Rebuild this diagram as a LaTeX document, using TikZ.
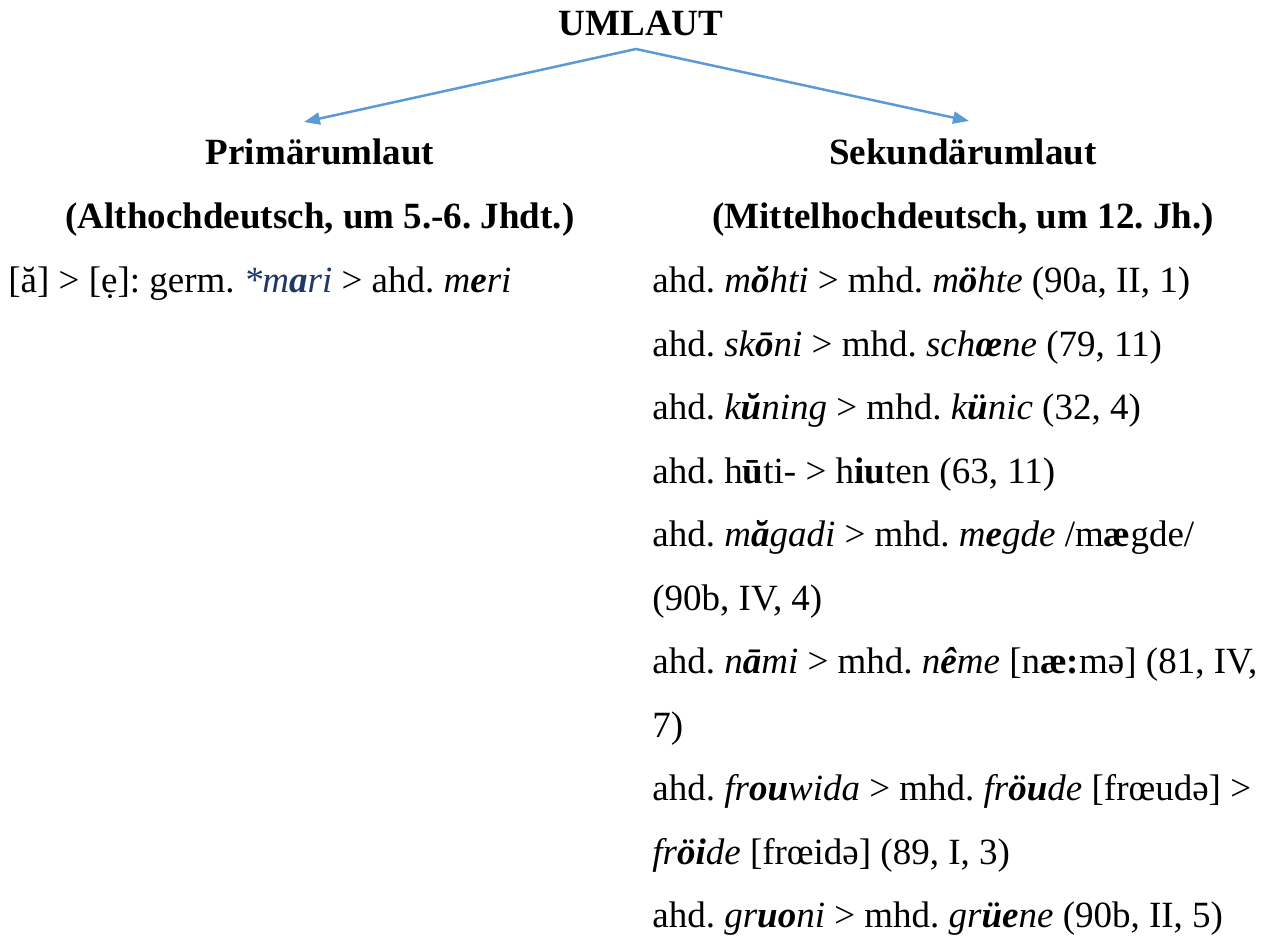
\documentclass[tikz,border=0pt]{standalone}
\usepackage{fontspec}
\setmainfont{Liberation Serif}
\usepackage{xcolor}
\usepackage{tikz}
\usetikzlibrary{arrows.meta,positioning}

\definecolor{arrowblue}{RGB}{91,155,213}
\definecolor{starblue}{RGB}{31,56,100}
\newcommand{\emv}[1]{\textbf{#1}}
\frenchspacing

\begin{document}
\begin{tikzpicture}[x=0.5pt,y=-0.5pt,>={Triangle[length=8pt,width=6pt]}]
  \tikzstyle{head}=[inner sep=0pt,anchor=base,font=\fontsize{18.5}{22}\selectfont\bfseries]
  \tikzstyle{line}=[inner sep=0pt,anchor=base west,font=\fontsize{18.5}{22}\selectfont]
  \tikzstyle{branch}=[->,arrowblue,line width=1.25pt]
  \useasboundingbox (0,0) rectangle (1287,946);
  % title and the two branches
  \node[head] (uml) at (641,36) {UMLAUT};
  \coordinate (apex) at (636,49);
  \node[head] (prim) at (320,165) {Primärumlaut};
  \node[head,below=31.75pt of prim.base,anchor=base] (primtime) {(Althochdeutsch, um 5.-6. Jhdt.)};
  \node[head] (sek) at (963,165) {Sekundärumlaut};
  \node[head,below=31.75pt of sek.base,anchor=base] (sektime) {(Mittelhochdeutsch, um 12. Jh.)};
  \coordinate (toprim) at (304,122);
  \coordinate (tosek) at (969,121);
  \draw[branch] (apex) -- (toprim);
  \draw[branch] (apex) -- (tosek);
  % left column
  \node[line] (l1) at (8,293) {[ă] > [ẹ]: germ. \textcolor{starblue}{\textit{*m\emv{a}ri}} > ahd. \textit{m\emv{e}ri}};
  % right column
  \node[line] (r1) at (652,293) {ahd. \textit{m\emv{ŏ}hti} > mhd. \textit{m\emv{ö}hte} (90a, II, 1)};
  \node[line,below=31.75pt of r1.base west,anchor=base west] (r2) {ahd. \textit{sk\emv{ō}ni} > mhd. \textit{sch\emv{œ}ne} (79, 11)};
  \node[line,below=31.75pt of r2.base west,anchor=base west] (r3) {ahd. \textit{k\emv{ŭ}ning} > mhd. \textit{k\emv{ü}nic} (32, 4)};
  \node[line,below=31.75pt of r3.base west,anchor=base west] (r4) {ahd. h\textbf{ū}ti- > h\textbf{iu}ten (63, 11)};
  \node[line,below=31.75pt of r4.base west,anchor=base west] (r5) {ahd. \textit{m\emv{ă}gadi} > mhd. \textit{m\emv{e}gde} /m\textbf{æ}gde/};
  \node[line,below=31.75pt of r5.base west,anchor=base west] (r6) {(90b, IV, 4)};
  \node[line,below=31.75pt of r6.base west,anchor=base west] (r7) {ahd. \textit{n\emv{ā}mi} > mhd. \textit{n\emv{ê}me} [n\textbf{æ:}mə] (81, IV,};
  \node[line,below=31.75pt of r7.base west,anchor=base west] (r8) {7)};
  \node[line,below=31.75pt of r8.base west,anchor=base west] (r9) {ahd. \textit{fr\emv{ou}wida} > mhd. \textit{fr\emv{öu}de} [frœudə] >};
  \node[line,below=31.75pt of r9.base west,anchor=base west] (r10) {\textit{fr\emv{öi}de} [frœidə] (89, I, 3)};
  \node[line,below=31.75pt of r10.base west,anchor=base west] (r11) {ahd. \textit{gr\emv{uo}ni} > mhd. \textit{gr\emv{üe}ne} (90b, II, 5)};
\end{tikzpicture}
\end{document}
